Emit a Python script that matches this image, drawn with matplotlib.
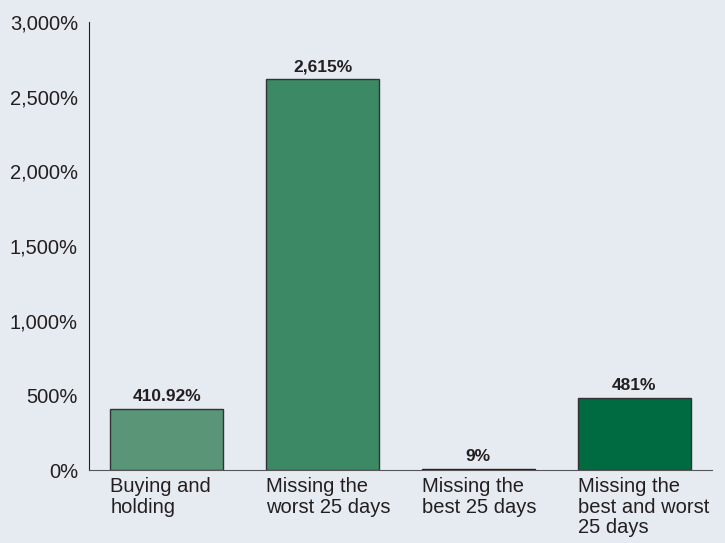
import matplotlib
matplotlib.use("Agg")
import matplotlib.pyplot as plt
import numpy as np

categories = ["Buying and\nholding", "Missing the\nworst 25 days",
              "Missing the\nbest 25 days", "Missing the\nbest and worst\n25 days"]
values = [410.92, 2615, 9, 481]
value_labels = ["410.92%", "2,615%", "9%", "481%"]
colors = ["#5a9577", "#3c8966", "#6a1a2c", "#006a40"]
yticks = [0, 500, 1000, 1500, 2000, 2500, 3000]

BG = "#e6ebf2"
FONT = ["Liberation Sans Narrow", "Liberation Sans", "DejaVu Sans"]
plt.rcParams["font.family"] = FONT

fig = plt.figure(figsize=(7.25, 5.43), dpi=100, facecolor=BG)
ax = fig.add_axes([0.1228, 0.1344, 0.8592, 0.8251], facecolor=BG)

x = np.arange(len(values))
width = 0.725
edges = ["#333333", "#333333", "#4a0f1c", "#333333"]
ax.bar(x, values, width=width, color=colors, edgecolor=edges, linewidth=1)

for xi, v, lab in zip(x, values, value_labels):
    ax.text(xi, v + 32, lab, ha="center", va="bottom", fontsize=12.5,
            fontweight="bold", color="#231f20")

for xi, cat in zip(x, categories):
    ax.text(xi - width / 2, -45, cat, ha="left", va="top", fontsize=14.5,
            color="#231f20", linespacing=1.12)

ax.set_xlim(-0.5, 3.5)
ax.set_ylim(0, 3000)
ax.set_yticks(yticks)
ax.set_yticklabels([f"{t:,}%" for t in yticks])
ax.set_xticks([])
ax.tick_params(axis="y", length=0, pad=8, labelsize=14.5, labelcolor="#231f20")
for s in ["top", "right"]:
    ax.spines[s].set_visible(False)
ax.spines["left"].set_color("#231f20")
ax.spines["bottom"].set_color("#555555")

fig.savefig("out.png", dpi=100, facecolor=BG)
